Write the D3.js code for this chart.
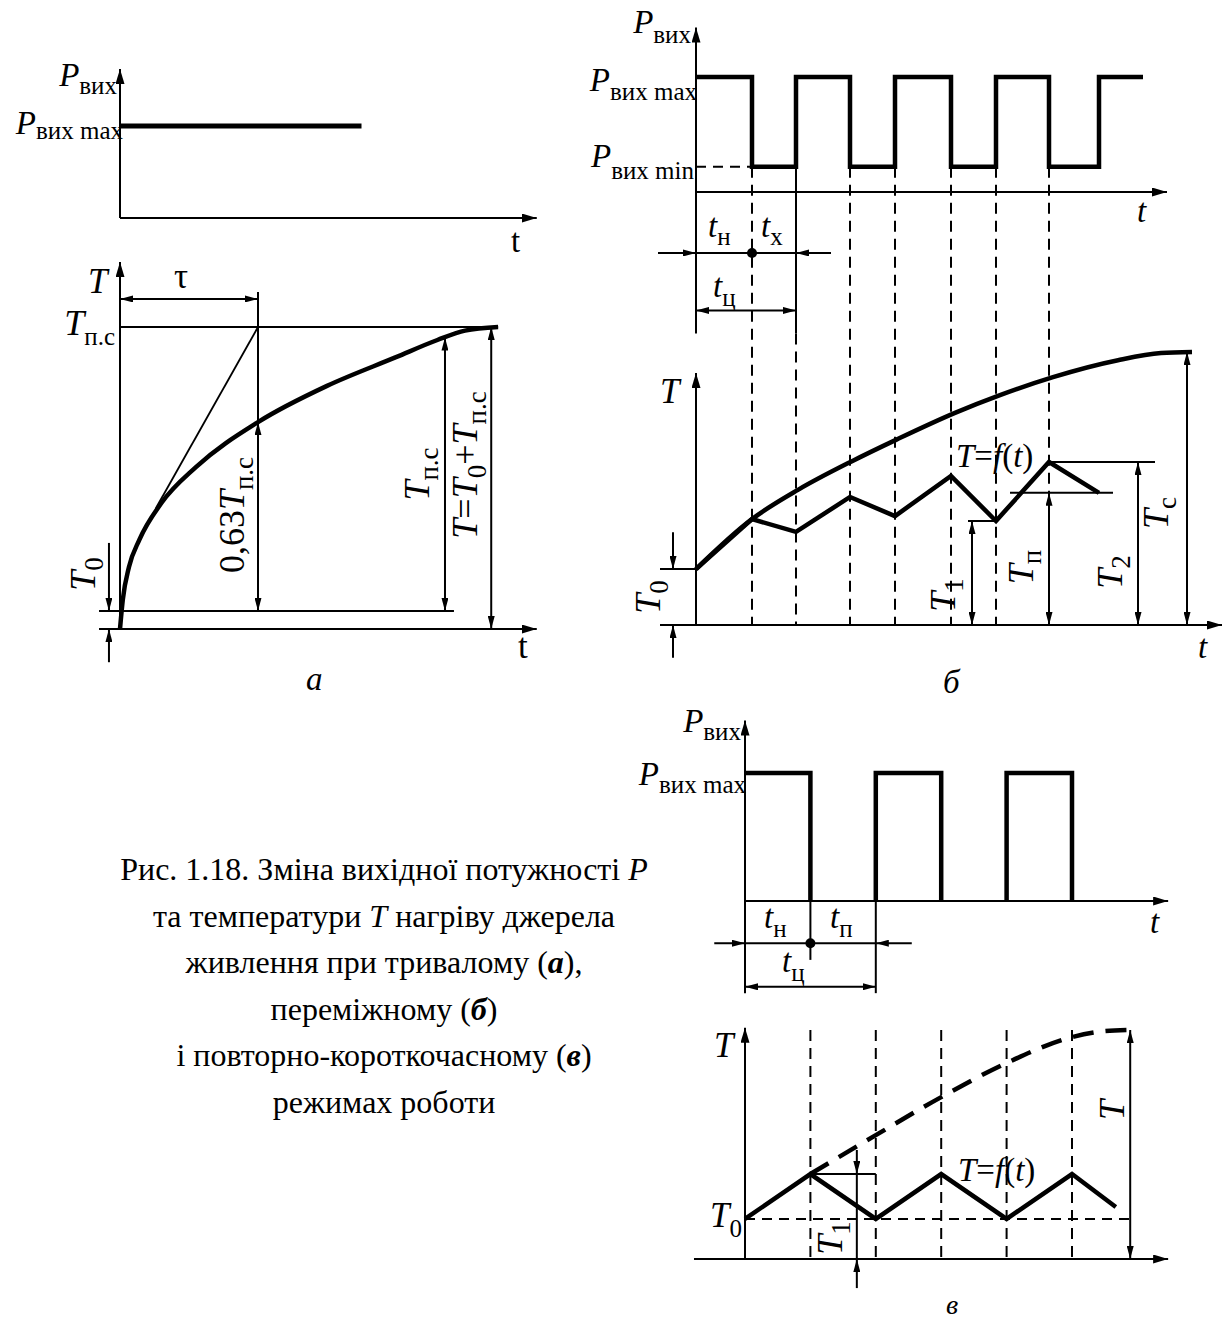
<!DOCTYPE html>
<html>
<head>
<meta charset="utf-8">
<script src="https://cdn.jsdelivr.net/npm/d3@7"></script>
<style>
  body { margin: 0; background: #fff; }
  svg { display: block; }
  text { font-family: "Liberation Serif", "Times New Roman", serif; fill: #000; }
</style>
</head>
<body>
<div id="chart"></div>
<script>
// ---------- data ----------
// panel а: time in units of tau, temperature relative to T_п.с
const aTimeEnd = 3.02
const aPmax = 1
const aPmaxStop = 1.75
const aT0 = 0.06
const aTau = 1
const aHeat = [[0, 0], [0.02, 0.096], [0.065, 0.205], [0.14, 0.295], [0.30, 0.417], [0.55, 0.536],
  [1.0, 0.685], [1.5, 0.805], [2.0, 0.9], [2.3, 0.957], [2.5, 0.988], [2.74, 1.0]]
const aTangent = [[1, 1], [0.26, 0.40]]

// panel б: time in cycles t_ц, power / temperature relative
const bEdges = [0.56, 1.0, 1.54, 1.99, 2.55, 3.0, 3.53, 4.03]
const bEnd = 4.47
const bPmin = 0.22
const bT0 = 0.205
const bEnvelope = [[0, 0.205], [0.56, 0.388], [1.02, 0.495], [1.56, 0.600], [2.01, 0.680], [2.59, 0.777],
  [3.04, 0.842], [3.57, 0.908], [4.22, 0.97], [4.65, 0.996], [4.96, 1.0]]
const bSaw = [[0, 0.205], [0.56, 0.388], [1.0, 0.341], [1.54, 0.469], [1.99, 0.399], [2.55, 0.546],
  [3.0, 0.381], [3.53, 0.597], [4.03, 0.484]]
const bT1 = 0.381, bTn = 0.484, bT2 = 0.597

// panel в: time in units of t_н (= t_п)
const cEdges = [1, 2, 3, 4, 5]
const cPulses = [[0, 1], [2, 3], [4, 5]]
const cT0 = 0.175
const cSaw = [[0, 0.175], [1, 0.371], [2, 0.175], [3, 0.371], [4, 0.175], [5, 0.371], [5.67, 0.227]]
const cEnvelope = [[1, 0.371], [2, 0.541], [3, 0.707], [4, 0.856], [5, 0.969], [5.5, 0.995], [5.89, 1.0]]
const cT1 = 0.371

const caption = [
  [["Рис. 1.18. Зміна вихідної потужності ", ""], ["P", "i"]],
  [["та температури ", ""], ["T", "i"], [" нагріву джерела", ""]],
  [["живлення при тривалому (", ""], ["а", "bi"], ["),", ""]],
  [["переміжному (", ""], ["б", "bi"], [")", ""]],
  [["і повторно-короткочасному (", ""], ["в", "bi"], [")", ""]],
  [["режимах роботи", ""]]
]

// ---------- setup ----------
const svg = d3.select("#chart").append("svg").attr("width", 1224).attr("height", 1319)
const defs = svg.append("defs")

function marker(id, len, half) {
  defs.append("marker").attr("id", id)
    .attr("markerUnits", "userSpaceOnUse")
    .attr("viewBox", `${-len} ${-half} ${len} ${2 * half}`)
    .attr("refX", 0).attr("refY", 0)
    .attr("markerWidth", len).attr("markerHeight", 2 * half)
    .attr("orient", "auto-start-reverse")
    .append("path").attr("d", `M0,0L${-len},${-half}L${-len},${half}Z`).attr("fill", "#000")
}
marker("ax", 15, 4.5)
marker("dm", 13, 3.5)

function seg(g, x1, y1, x2, y2, o = {}) {
  const l = g.append("line")
    .attr("x1", x1).attr("y1", y1).attr("x2", x2).attr("y2", y2)
    .attr("stroke", "#000").attr("stroke-width", o.w || 2)
  if (o.dash) l.attr("stroke-dasharray", o.dash)
  if (o.start) l.attr("marker-start", `url(#${o.start})`)
  if (o.end) l.attr("marker-end", `url(#${o.end})`)
  return l
}

function path(g, pts, x, y, o = {}) {
  const line = d3.line().x(d => x(d[0])).y(d => y(d[1]))
  if (o.smooth) line.curve(d3.curveMonotoneX)
  const p = g.append("path").attr("d", line(pts)).attr("fill", "none")
    .attr("stroke", "#000").attr("stroke-width", o.w || 4.5)
    .attr("stroke-linejoin", "miter")
  if (o.dash) p.attr("stroke-dasharray", o.dash)
  return p
}

// parts: [text, style]; style: i = italic, s = subscript, b = bold
function rich(g, x, y, parts, o = {}) {
  const rot = !!o.rot
  const t = g.append("text").attr("font-size", o.size || (rot ? 36 : 33))
    .attr("text-anchor", o.anchor || "start")
  if (rot) t.attr("transform", `translate(${x},${y}) rotate(-90)`)
  else t.attr("x", x).attr("y", y)
  let shift = 0
  parts.forEach(([txt, st]) => {
    const s = t.append("tspan").text(txt)
    const sub = st.includes("s")
    const want = sub ? (o.sd || 8) : 0
    if (want !== shift) { s.attr("dy", want - shift); shift = want }
    if (sub) s.attr("font-size", o.sub || (rot ? 27 : 25))
    if (st.includes("i")) s.attr("font-style", "italic")
    if (st.includes("b")) s.attr("font-weight", "bold")
  })
  return t
}

// ---------- panel а ----------
const xA = d3.scaleLinear().domain([0, 1]).range([120, 258])
const yA1 = d3.scaleLinear().domain([0, 1]).range([218, 126])
const yA2 = d3.scaleLinear().domain([0, 1]).range([629, 327])
const gA = svg.append("g")

seg(gA, xA(0), yA1(0), xA(0), yA1(1.62), { end: "ax" })
seg(gA, xA(0), yA1(0), xA(aTimeEnd), yA1(0), { end: "ax" })
path(gA, [[0, aPmax], [aPmaxStop, aPmax]], xA, yA1, { w: 5 })
rich(gA, 117, 86, [["P", "i"], ["вих", "s"]], { anchor: "end", sd: 8 })
rich(gA, 123, 134, [["P", "i"], ["вих max", "s"]], { anchor: "end", sd: 5 })
rich(gA, 511, 252, [["t", ""]])

seg(gA, xA(0), yA2(0), xA(0), yA2(1.215), { end: "ax" })
seg(gA, xA(-0.152), yA2(0), xA(aTimeEnd), yA2(0), { end: "ax" })
seg(gA, xA(-0.152), yA2(aT0), xA(2.42), yA2(aT0))
seg(gA, xA(0), yA2(1), xA(2.74), yA2(1))
seg(gA, xA(aTau), yA2(1.116), xA(aTau), yA2(aT0))
seg(gA, xA(0), yA2(1.093), xA(aTau), yA2(1.093), { start: "dm", end: "dm" })
path(gA, aTangent, xA, yA2, { w: 1.8 })
path(gA, aHeat, xA, yA2, { smooth: true, w: 4.5 })
seg(gA, xA(aTau), yA2(aT0), xA(aTau), yA2(0.685), { start: "dm", end: "dm" })
seg(gA, xA(2.355), yA2(aT0), xA(2.355), yA2(0.965), { start: "dm", end: "dm" })
seg(gA, xA(2.69), yA2(0), xA(2.69), yA2(1), { start: "dm", end: "dm" })
seg(gA, xA(-0.08), yA2(0.285), xA(-0.08), yA2(aT0), { end: "dm" })
seg(gA, xA(-0.08), yA2(-0.11), xA(-0.08), yA2(0), { end: "dm" })

rich(gA, 88, 293, [["T", "i"]], { size: 35 })
rich(gA, 181, 288, [["τ", ""]], { anchor: "middle", size: 35 })
rich(gA, 115, 335, [["T", "i"], ["п.с", "s"]], { anchor: "end", sd: 10, size: 36 })
rich(gA, 95, 574, [["T", "i"], ["0", "s"]], { rot: true, anchor: "middle", sd: 8 })
rich(gA, 244, 515, [["0,63", ""], ["T", "i"], ["п.с", "s"]], { rot: true, anchor: "middle", sd: 9 })
rich(gA, 429, 474, [["T", "i"], ["п.с", "s"]], { rot: true, anchor: "middle", sd: 9 })
rich(gA, 477, 465, [["T", "i"], ["=", ""], ["T", "i"], ["0", "s"], ["+", ""], ["T", "i"], ["п.с", "s"]],
  { rot: true, anchor: "middle", sd: 9 })
rich(gA, 518, 658, [["t", ""]], { size: 35 })
rich(gA, 306, 690, [["а", "i"]])

// ---------- panel б ----------
const xB = d3.scaleLinear().domain([0, 1]).range([696, 796])
const yB1 = d3.scaleLinear().domain([0, 1]).range([192, 77])
const yB2 = d3.scaleLinear().domain([0, 1]).range([625, 352])
const gB = svg.append("g")

// square wave built from the switching instants
const bWave = [[0, 1]]
let lvl = 1
bEdges.forEach(e => { bWave.push([e, lvl]); lvl = lvl === 1 ? bPmin : 1; bWave.push([e, lvl]) })
bWave.push([bEnd, lvl])

seg(gB, xB(0), yB1(-1.23), xB(0), yB1(1.43), { end: "ax" })
seg(gB, xB(0), yB1(0), xB(4.71), yB1(0), { end: "ax" })
seg(gB, xB(0), yB1(bPmin), xB(bEdges[0]), yB1(bPmin), { dash: "10,7" })
bEdges.slice(0, 7).forEach((e, i) => {
  if (i === 1) {
    seg(gB, xB(e), yB1(bPmin), xB(e), yB1(-1.23))
    seg(gB, xB(e), yB1(-1.23), xB(e), yB2(0), { dash: "11,7" })
  } else {
    seg(gB, xB(e), yB1(bPmin), xB(e), yB2(0), { dash: "11,7" })
  }
})
path(gB, bWave, xB, yB1, { w: 4.5 })

seg(gB, xB(-0.38), yB1(-0.53), xB(0), yB1(-0.53), { end: "dm" })
seg(gB, xB(0), yB1(-0.53), xB(1), yB1(-0.53))
seg(gB, xB(1.35), yB1(-0.53), xB(1), yB1(-0.53), { end: "dm" })
gB.append("circle").attr("cx", xB(bEdges[0])).attr("cy", yB1(-0.53)).attr("r", 5)
seg(gB, xB(0), yB1(-1.03), xB(1), yB1(-1.03), { start: "dm", end: "dm" })

rich(gB, 691, 33, [["P", "i"], ["вих", "s"]], { anchor: "end", sd: 10 })
rich(gB, 697, 91, [["P", "i"], ["вих max", "s"]], { anchor: "end", sd: 9 })
rich(gB, 694, 167, [["P", "i"], ["вих min", "s"]], { anchor: "end", sd: 12 })
rich(gB, 708, 237, [["t", "i"], ["н", "s"]], { sd: 8 })
rich(gB, 761, 237, [["t", "i"], ["х", "s"]], { sd: 8 })
rich(gB, 713, 297, [["t", "i"], ["ц", "s"]], { sd: 9 })
rich(gB, 1137, 222, [["t", "i"]])

seg(gB, xB(0), yB2(0), xB(0), yB2(0.923), { end: "ax" })
seg(gB, xB(-0.36), yB2(0), xB(5.26), yB2(0), { end: "ax" })
seg(gB, xB(-0.36), yB2(bT0), xB(0), yB2(bT0))
seg(gB, xB(-0.23), yB2(0.34), xB(-0.23), yB2(bT0), { end: "dm" })
seg(gB, xB(-0.23), yB2(-0.12), xB(-0.23), yB2(0), { end: "dm" })
path(gB, bEnvelope, xB, yB2, { smooth: true, w: 4.5 })
path(gB, bSaw, xB, yB2, { w: 4.5 })
seg(gB, xB(2.72), yB2(bT1), xB(3.0), yB2(bT1))
seg(gB, xB(3.14), yB2(bTn), xB(4.17), yB2(bTn))
seg(gB, xB(3.53), yB2(bT2), xB(4.59), yB2(bT2))
seg(gB, xB(2.76), yB2(0), xB(2.76), yB2(bT1), { start: "dm", end: "dm" })
seg(gB, xB(3.53), yB2(0), xB(3.53), yB2(bTn), { start: "dm", end: "dm" })
seg(gB, xB(4.42), yB2(0), xB(4.42), yB2(bT2), { start: "dm", end: "dm" })
seg(gB, xB(4.91), yB2(0), xB(4.91), yB2(1), { start: "dm", end: "dm" })

rich(gB, 660, 403, [["T", "i"]], { size: 35 })
rich(gB, 660, 597, [["T", "i"], ["0", "s"]], { rot: true, anchor: "middle", sd: 8 })
rich(gB, 955, 595, [["T", "i"], ["1", "s"]], { rot: true, anchor: "middle", sd: 8 })
rich(gB, 1033, 567, [["T", "i"], ["п", "s"]], { rot: true, anchor: "middle", sd: 8 })
rich(gB, 1122, 572, [["T", "i"], ["2", "s"]], { rot: true, anchor: "middle", sd: 8 })
rich(gB, 1168, 513, [["T", "i"], ["с", "s"]], { rot: true, anchor: "middle", sd: 8 })
rich(gB, 956, 467, [["T", "i"], ["=", ""], ["f", "i"], ["(", ""], ["t", "i"], [")", ""]])
rich(gB, 1198, 658, [["t", "i"]])
rich(gB, 943, 693, [["б", "i"]])

// ---------- panel в ----------
const xC = d3.scaleLinear().domain([0, 5]).range([745, 1072])
const yC1 = d3.scaleLinear().domain([0, 1]).range([901, 773])
const yC2 = d3.scaleLinear().domain([0, 1]).range([1259, 1030])
const gC = svg.append("g")

seg(gC, xC(0), yC1(-0.72), xC(0), yC1(1.41), { end: "ax" })
seg(gC, xC(0), yC1(0), xC(6.47), yC1(0), { end: "ax" })
cPulses.forEach(([a, b]) => {
  const pts = a === 0 ? [[a, 1], [b, 1], [b, 0]] : [[a, 0], [a, 1], [b, 1], [b, 0]]
  path(gC, pts, xC, yC1, { w: 4.5 })
})
seg(gC, xC(1), yC1(0), xC(1), yC1(-0.46))
seg(gC, xC(2), yC1(0), xC(2), yC1(-0.72))
seg(gC, xC(-0.47), yC1(-0.33), xC(0), yC1(-0.33), { end: "dm" })
seg(gC, xC(0), yC1(-0.33), xC(2), yC1(-0.33))
seg(gC, xC(2.55), yC1(-0.33), xC(2), yC1(-0.33), { end: "dm" })
gC.append("circle").attr("cx", xC(1)).attr("cy", yC1(-0.33)).attr("r", 5)
seg(gC, xC(0), yC1(-0.67), xC(2), yC1(-0.67), { start: "dm", end: "dm" })

rich(gC, 741, 732, [["P", "i"], ["вих", "s"]], { anchor: "end", sd: 8 })
rich(gC, 746, 785, [["P", "i"], ["вих max", "s"]], { anchor: "end", sd: 8 })
rich(gC, 764, 928, [["t", "i"], ["н", "s"]], { sd: 9 })
rich(gC, 830, 928, [["t", "i"], ["п", "s"]], { sd: 9 })
rich(gC, 782, 972, [["t", "i"], ["ц", "s"]], { sd: 9 })
rich(gC, 1150, 933, [["t", "i"]])

seg(gC, xC(0), yC2(0), xC(0), yC2(1.01), { end: "ax" })
seg(gC, xC(-0.78), yC2(0), xC(6.47), yC2(0), { end: "ax" })
cEdges.forEach(e => seg(gC, xC(e), yC2(1), xC(e), yC2(0), { dash: "11,7" }))
seg(gC, xC(0), yC2(cT0), xC(5.89), yC2(cT0), { dash: "10,7" })
path(gC, cEnvelope, xC, yC2, { smooth: true, w: 4.5, dash: "21,12" })
path(gC, cSaw, xC, yC2, { w: 4.5 })
seg(gC, xC(1), yC2(cT1), xC(2), yC2(cT1))
seg(gC, xC(1.71), yC2(0.476), xC(1.71), yC2(cT1), { end: "dm" })
seg(gC, xC(1.71), yC2(cT1), xC(1.71), yC2(0))
seg(gC, xC(1.71), yC2(-0.127), xC(1.71), yC2(0), { end: "dm" })
seg(gC, xC(5.89), yC2(0), xC(5.89), yC2(1), { start: "dm", end: "dm" })

rich(gC, 714, 1057, [["T", "i"]], { size: 35 })
rich(gC, 742, 1227, [["T", "i"], ["0", "s"]], { anchor: "end", sd: 10, size: 35 })
rich(gC, 842, 1238, [["T", "i"], ["1", "s"]], { rot: true, anchor: "middle", sd: 8 })
rich(gC, 1124, 1110, [["T", "i"]], { rot: true, anchor: "middle" })
rich(gC, 958, 1181, [["T", "i"], ["=", ""], ["f", "i"], ["(", ""], ["t", "i"], [")", ""]])
rich(gC, 946, 1314, [["в", "i"]], { size: 28 })

// ---------- caption ----------
const gT = svg.append("g")
caption.forEach((line, i) => rich(gT, 384, 880 + i * 46.5, line, { anchor: "middle", size: 32 }))
</script>
</body>
</html>
